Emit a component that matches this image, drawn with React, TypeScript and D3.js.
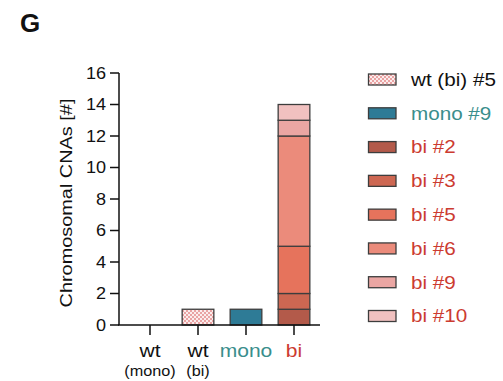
import React from "react";
import * as d3 from "d3";

// Categories along the x axis
const categories = ["wt (mono)", "wt (bi)", "mono", "bi"];
const catLine1 = ["wt", "wt", "mono", "bi"];
const catLine2 = ["(mono)", "(bi)", "", ""];
const catColors = ["#111111", "#111111", "#3a8e8c", "#cc3b30"];

// Stack segments: clone name, category, count of CNAs
const segClones = ["wt (bi) #5", "mono #9", "bi #2", "bi #3", "bi #5", "bi #6", "bi #9", "bi #10"];
const segCategory = ["wt (bi)", "mono", "bi", "bi", "bi", "bi", "bi", "bi"];
const segValues = [1, 1, 1, 1, 3, 7, 1, 1];
const segFills = ["url(#checker)", "#2e7b96", "#b35a4a", "#cd6752", "#e6735c", "#eb8b7b", "#eaa6a3", "#f1c1c0"];
const legendTextColors = ["#111111", "#3a8e8c", "#cc3b30", "#cc3b30", "#cc3b30", "#cc3b30", "#cc3b30", "#cc3b30"];

const yTicks = [0, 2, 4, 6, 8, 10, 12, 14, 16];

const FONT = "'Liberation Sans', Arial, Helvetica, sans-serif";

// Text with a slightly widened face
function Txt(props: {
  x: number;
  y: number;
  size: number;
  sx?: number;
  rotate?: number;
  anchor?: "start" | "middle" | "end";
  dy?: string;
  fill?: string;
  weight?: string;
  children: React.ReactNode;
}) {
  const { x, y, size, sx = 1.15, rotate = 0, anchor = "start", dy, fill = "#111", weight, children } = props;
  return (
    <text
      transform={`translate(${x},${y}) rotate(${rotate}) scale(${sx},1)`}
      fontSize={size}
      textAnchor={anchor}
      dy={dy}
      fill={fill}
      fontWeight={weight}
      fontFamily={FONT}
    >
      {children}
    </text>
  );
}

export default function App() {
  const W = 503;
  const H = 381;

  const y = d3.scaleLinear().domain([0, 16]).range([325, 73]);
  const x = d3.scaleBand().domain(categories).range([126, 318]).paddingInner(0.34).paddingOuter(0.17);
  const axisX = 119;

  // Cumulative stacking per category
  const offsets: Record<string, number> = {};
  const segments = segValues.map((v, i) => {
    const cat = segCategory[i];
    const y0 = offsets[cat] ?? 0;
    offsets[cat] = y0 + v;
    return { cat, y0, y1: y0 + v, fill: segFills[i] };
  });

  const stroke = "#3d3d3d";
  const legendY = d3.scalePoint().domain(segClones).range([79.5, 316]);

  return (
    <svg width={W} height={H} style={{ position: "absolute", left: 0, top: 0 }} fontFamily={FONT}>
      <defs>
        <pattern id="checker" width="4" height="4" patternUnits="userSpaceOnUse">
          <rect width="4" height="4" fill="#fbecec" />
          <rect width="2" height="2" fill="#e9a3a3" />
          <rect x="2" y="2" width="2" height="2" fill="#e9a3a3" />
        </pattern>
      </defs>

      <Txt x={20} y={32} size={26} sx={1} weight="bold">G</Txt>

      {/* y axis */}
      <line x1={axisX} x2={axisX} y1={y(16)} y2={y(0)} stroke="#111" strokeWidth={1.5} />
      {yTicks.map((t) => (
        <g key={t}>
          <line x1={axisX - 9} x2={axisX} y1={y(t)} y2={y(t)} stroke="#111" strokeWidth={1.5} />
          <Txt x={axisX - 13} y={y(t)} dy="0.36em" anchor="end" size={16} sx={1.13}>{t}</Txt>
        </g>
      ))}
      <Txt x={72} y={203} rotate={-90} anchor="middle" size={17} sx={1.17}>
        Chromosomal CNAs [#]
      </Txt>

      {/* bars */}
      {segments.map((s, i) => (
        <rect
          key={i}
          x={x(s.cat)!}
          width={x.bandwidth()}
          y={y(s.y1)}
          height={y(s.y0) - y(s.y1)}
          fill={s.fill}
          stroke={stroke}
          strokeWidth={1.3}
        />
      ))}

      {/* x axis */}
      <line x1={axisX - 1} x2={320} y1={y(0)} y2={y(0)} stroke="#111" strokeWidth={1.5} />
      {categories.map((c, i) => {
        const cx = x(c)! + x.bandwidth() / 2;
        return (
          <g key={c}>
            <line x1={cx} x2={cx} y1={y(0)} y2={y(0) + 10} stroke="#111" strokeWidth={1.5} />
            <Txt x={cx} y={357} anchor="middle" size={18} sx={1.17} fill={catColors[i]}>{catLine1[i]}</Txt>
            {catLine2[i] && (
              <Txt x={cx} y={376} anchor="middle" size={14.5} sx={1.12} fill={catColors[i]}>{catLine2[i]}</Txt>
            )}
          </g>
        );
      })}

      {/* legend */}
      {segClones.map((name, i) => {
        const cy = legendY(name)!;
        return (
          <g key={name}>
            <rect x={368.5} y={cy - 5.5} width={27.5} height={11} fill={segFills[i]} stroke={stroke} strokeWidth={1.3} />
            <Txt x={411} y={cy} dy="0.36em" size={17.5} sx={1.18} fill={legendTextColors[i]}>{name}</Txt>
          </g>
        );
      })}
    </svg>
  );
}
